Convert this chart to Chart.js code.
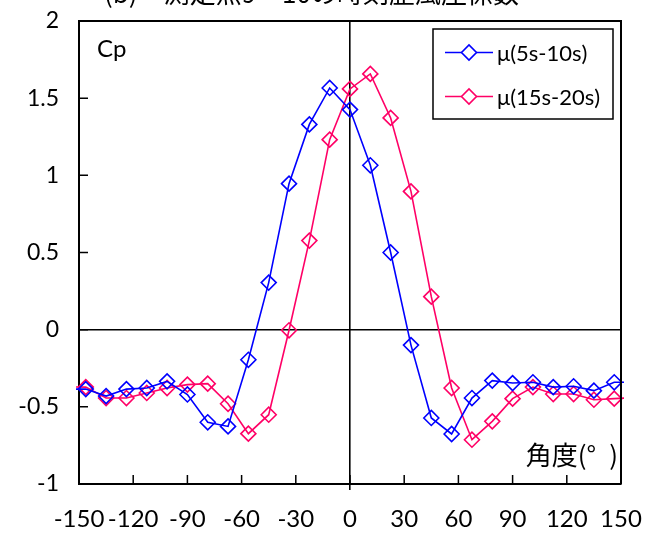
<!DOCTYPE html>
<html>
<head>
<meta charset="utf-8">
<script src="https://cdn.jsdelivr.net/npm/chart.js@4.4.1/dist/chart.umd.min.js"></script>
<style>
  html, body { margin: 0; padding: 0; background: #fff; }
</style>
</head>
<body>
<canvas id="cp-chart" width="645" height="539"></canvas>
<script>
// angle of each tap (deg), outermost points sit just outside the plotted range
var angles = [-157.5, -146.25, -135, -123.75, -112.5, -101.25, -90, -78.75, -67.5, -56.25,
              -45, -33.75, -22.5, -11.25, 0, 11.25, 22.5, 33.75, 45, 56.25,
              67.5, 78.75, 90, 101.25, 112.5, 123.75, 135, 146.25, 157.5];

// mean Cp, 5s-10s
var cpMean5to10 = [-0.385, -0.385, -0.43, -0.385, -0.378, -0.335, -0.42, -0.60, -0.627, -0.195,
                   0.305, 0.946, 1.33, 1.566, 1.426, 1.065, 0.50, -0.10, -0.572, -0.676,
                   -0.443, -0.33, -0.346, -0.341, -0.372, -0.367, -0.395, -0.341, -0.34];

// mean Cp, 15s-20s
var cpMean15to20 = [-0.37, -0.372, -0.443, -0.443, -0.41, -0.378, -0.356, -0.35, -0.48, -0.674,
                    -0.551, -0.004, 0.577, 1.231, 1.56, 1.657, 1.372, 0.896, 0.214, -0.378,
                    -0.713, -0.594, -0.447, -0.372, -0.417, -0.417, -0.454, -0.447, -0.44];

var seriesNames = ['μ(5s-10s)', 'μ(15s-20s)'];
var seriesColors = ['#0000ff', '#ff0066'];

var titleText = '(b)\u3000測定点9～10の時刻歴風圧係数';
var yAxisTitle = 'Cp';
var xAxisTitle = '角度(°\u2002)';

function toPoints(vals) {
    return angles.map(function(a, i) { return { x: a, y: vals[i] }; });
}

function makeDataset(i, vals) {
    return {
        label: seriesNames[i],
        data: toPoints(vals),
        borderColor: seriesColors[i],
        pointBorderColor: seriesColors[i],
        pointBackgroundColor: 'rgba(255,255,255,0)',
        pointStyle: 'rectRot',
        pointRadius: 7.5,
        pointBorderWidth: 1.6,
        borderWidth: 1.6,
        tension: 0,
        clip: 3
    };
}

// frame, inner ticks, legend box and the loose texts
var decorations = {
    id: 'decorations',
    afterDraw: function(chart) {
        var ctx = chart.ctx;
        var area = chart.chartArea;
        var xs = chart.scales.x, ys = chart.scales.y;

        ctx.save();
        ctx.strokeStyle = '#000';
        ctx.lineWidth = 2;
        ctx.beginPath();
        ctx.moveTo(area.left, area.top);
        ctx.lineTo(area.right, area.top);
        ctx.lineTo(area.right, area.bottom);
        ctx.stroke();

        ctx.lineWidth = 1.5;
        ctx.beginPath();
        xs.ticks.forEach(function(t) {
            var px = xs.getPixelForValue(t.value);
            ctx.moveTo(px, area.bottom);
            ctx.lineTo(px, area.bottom - 9);
        });
        ys.ticks.forEach(function(t) {
            var py = ys.getPixelForValue(t.value);
            ctx.moveTo(area.left, py);
            ctx.lineTo(area.left + 9, py);
        });
        ctx.stroke();

        // legend
        var lx = 433, ly = 29, lw = 180, lh = 90;
        ctx.fillStyle = '#fff';
        ctx.fillRect(lx, ly, lw, lh);
        ctx.lineWidth = 1.5;
        ctx.strokeRect(lx, ly, lw, lh);
        chart.data.datasets.forEach(function(ds, i) {
            var yy = 52.5 + i * 44;
            ctx.strokeStyle = ds.borderColor;
            ctx.lineWidth = ds.borderWidth;
            ctx.beginPath();
            ctx.moveTo(445, yy);
            ctx.lineTo(493, yy);
            ctx.stroke();
            ctx.fillStyle = '#fff';
            ctx.lineWidth = ds.pointBorderWidth;
            Chart.helpers.drawPoint(ctx, { pointStyle: 'rectRot', radius: ds.pointRadius, borderWidth: ds.pointBorderWidth }, 469, yy);
            ctx.fillStyle = '#000';
            ctx.font = '22px Lato';
            ctx.textBaseline = 'middle';
            ctx.textAlign = 'left';
            ctx.fillText(ds.label, 497, yy + 1);
        });

        ctx.fillStyle = '#000';
        ctx.textBaseline = 'alphabetic';
        ctx.font = '24px Lato';
        ctx.textAlign = 'left';
        ctx.fillText(yAxisTitle, 97, 57);

        ctx.font = '26px "Noto Sans CJK JP"';
        ctx.textAlign = 'right';
        ctx.fillText(xAxisTitle, 618, 465);

        ctx.font = '26px "Noto Sans CJK JP"';
        ctx.textAlign = 'left';
        ctx.fillText(titleText, 104, 3);
        ctx.restore();
    }
};

var zeroOnly = function(c) {
    return c.tick && c.tick.value === 0 ? '#000' : 'rgba(0,0,0,0)';
};

var ctx = document.getElementById('cp-chart');

var cpChart = new Chart(ctx, {
    type: 'line',
    data: {
        datasets: [makeDataset(0, cpMean5to10), makeDataset(1, cpMean15to20)]
    },
    options: {
        responsive: false,
        animation: false,
        devicePixelRatio: 1,
        layout: { padding: { top: 21, right: 24, left: 0, bottom: 0 } },
        plugins: { legend: { display: false }, tooltip: { enabled: false } },
        scales: {
            x: {
                type: 'linear',
                min: -150,
                max: 150,
                ticks: { stepSize: 30, color: '#000', font: { family: 'Lato', size: 24 }, padding: 15, maxRotation: 0 },
                grid: { color: zeroOnly, tickColor: zeroOnly, lineWidth: 1.6, drawTicks: true, tickLength: 6 },
                border: { display: true, color: '#000', width: 2 },
                afterFit: function(s) { s.height = 55; s.paddingLeft = 0; s.paddingRight = 0; }
            },
            y: {
                min: -1,
                max: 2,
                ticks: {
                    stepSize: 0.5, color: '#000', font: { family: 'Lato', size: 23 }, padding: 20,
                    callback: function(v) { return String(Number(v.toFixed(1))); }
                },
                grid: { color: zeroOnly, lineWidth: 1.6, drawTicks: false },
                border: { display: true, color: '#000', width: 2 },
                afterFit: function(s) { s.width = 79; s.paddingTop = 0; s.paddingBottom = 0; }
            }
        }
    },
    plugins: [decorations]
});
</script>
</body>
</html>
